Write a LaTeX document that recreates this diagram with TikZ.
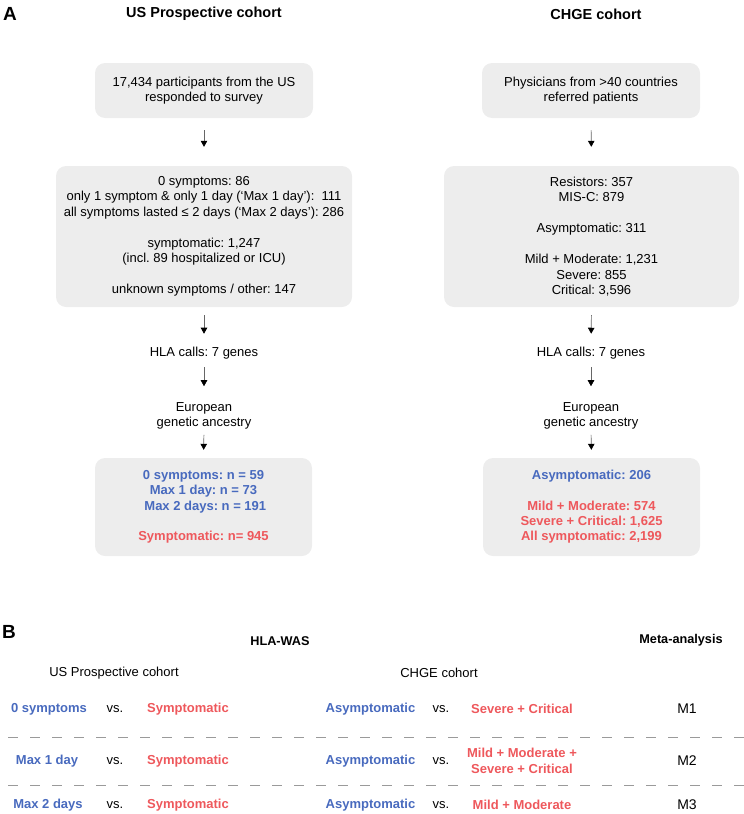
\documentclass[tikz,border=0pt]{standalone}
\usepackage{fontspec}
\setmainfont{Liberation Sans}
\usetikzlibrary{arrows.meta}
\definecolor{boxgray}{HTML}{EDEDED}
\definecolor{tblue}{RGB}{72,106,190}
\definecolor{tred}{RGB}{238,88,92}
\definecolor{dashgray}{HTML}{9A9A9A}
\frenchspacing
\tikzset{
  flowbox/.style={fill=boxgray, rounded corners=10pt, align=center, inner sep=0pt,
    font=\fontsize{13}{15.5}\selectfont},
  resbox/.style={fill=boxgray, rounded corners=10pt, align=center, inner sep=0pt,
    font=\bfseries\fontsize{13}{15.3}\selectfont},
  plain/.style={align=center, inner sep=0pt, font=\fontsize{13}{15.5}\selectfont},
  title/.style={inner sep=0pt, font=\bfseries\fontsize{14.5}{17}\selectfont},
  panel/.style={inner sep=0pt, font=\bfseries\fontsize{19}{21}\selectfont},
  subtitle/.style={inner sep=0pt, font=\bfseries\fontsize{12.7}{15}\selectfont},
  cohort/.style={inner sep=0pt, font=\fontsize{13}{15}\selectfont},
  grpb/.style={inner sep=0pt, align=center, text=tblue, font=\bfseries\fontsize{13}{15}\selectfont},
  grpr/.style={inner sep=0pt, align=center, text=tred, font=\bfseries\fontsize{13}{15}\selectfont},
  vsl/.style={inner sep=0pt, font=\fontsize{13}{15}\selectfont},
  meta/.style={inner sep=0pt, font=\fontsize{14}{16}\selectfont},
  arr/.style={line width=0.7pt, draw=black!60, -{Triangle[length=6pt,width=6.5pt,color=black]}},
  sep/.style={draw=dashgray, line width=1pt, dash pattern=on 10pt off 12pt},
}
\begin{document}
\begin{tikzpicture}[x=1pt,y=-1pt]
\useasboundingbox (0,0) rectangle (744,814);
% ---------------- Panel A ----------------
\node[panel] (pA) at (10,14) {A};
\node[title] (tUS) at (204,14) {US Prospective cohort};
\node[title] (tCH) at (596,14) {CHGE cohort};

% left column
\node[flowbox, minimum width=218pt, minimum height=55pt] (L1) at (204,90.5)
  {17,434 participants from the US\\responded to survey};
\node[flowbox, minimum width=296pt, minimum height=141pt] (L2) at (204,236.5)
  {0 symptoms: 86\\
   only 1 symptom \& only 1 day (‘Max 1 day’):\ \ 111\\
   all symptoms lasted ≤ 2 days (‘Max 2 days’): 286\\[15.5pt]
   symptomatic: 1,247\\
   (incl. 89 hospitalized or ICU)\\[15.5pt]
   unknown symptoms / other: 147};
\node[plain] (L3) at (204,353) {HLA calls: 7 genes};
\node[plain] (L4) at (204,416) {European\\genetic ancestry};
\node[resbox, minimum width=217pt, minimum height=98pt] (L5) at (203.5,507)
  {\textcolor{tblue}{0 symptoms: n = 59}\\
   \textcolor{tblue}{Max 1 day: n = 73}\\
   \textcolor{tblue}{\ Max 2 days: n = 191}\\[15.3pt]
   \textcolor{tred}{Symptomatic: n= 945}};

% right column
\node[flowbox, minimum width=218pt, minimum height=55pt] (R1) at (591,90.5)
  {Physicians from >40 countries\\referred patients};
\node[flowbox, minimum width=295pt, minimum height=141pt] (R2) at (591.5,236.5)
  {Resistors: 357\\
   MIS-C: 879\\[15.5pt]
   Asymptomatic: 311\\[15.5pt]
   Mild + Moderate: 1,231\\
   Severe: 855\\
   Critical: 3,596};
\node[plain] (R3) at (591,353) {HLA calls: 7 genes};
\node[plain] (R4) at (591,416) {European\\genetic ancestry};
\node[resbox, minimum width=217pt, minimum height=98pt] (R5) at (591.5,507)
  {\textcolor{tblue}{Asymptomatic: 206}\\[15.3pt]
   \textcolor{tred}{Mild + Moderate: 574}\\
   \textcolor{tred}{Severe + Critical: 1,625}\\
   \textcolor{tred}{All symptomatic: 2,199}};

% arrows
\foreach \c in {L,R}{
  \draw[arr, shorten <=12pt, shorten >=19pt] (\c1.south) -- (\c2.north);
  \draw[arr, shorten <=8pt, shorten >=13pt] (\c2.south) -- (\c3.north);
  \draw[arr, shorten <=8pt, shorten >=16pt] (\c3.south) -- (\c4.north);
  \draw[arr, shorten <=5pt, shorten >=8pt] (\c4.south) -- (\c5.north);
}

% ---------------- Panel B ----------------
\node[panel] (pB) at (9,632) {B};
\node[subtitle] (hw) at (280,641) {HLA-WAS};
\node[subtitle] (ma) at (681,640) {Meta-analysis};
\node[cohort] (cUS) at (114,673) {US Prospective cohort};
\node[cohort] (cCH) at (439,673) {CHGE cohort};

% row 1
\node[grpb] (a1) at (49,709) {0 symptoms};
\node[vsl] (v1) at (115,709) {vs.};
\node[grpr] (b1) at (188,709) {Symptomatic};
\node[grpb] (c1) at (370.5,709) {Asymptomatic};
\node[vsl] (w1) at (441,709) {vs.};
\node[grpr] (d1) at (522,709) {Severe + Critical};
\node[meta] (m1) at (687,709) {M1};

% row 2
\node[grpb] (a2) at (47,761) {Max 1 day};
\node[vsl] (v2) at (115,761) {vs.};
\node[grpr] (b2) at (188,761) {Symptomatic};
\node[grpb] (c2) at (370.5,761) {Asymptomatic};
\node[vsl] (w2) at (441,761) {vs.};
\node[grpr, font=\bfseries\fontsize{13}{15.5}\selectfont] (d2) at (522,761) {Mild + Moderate +\\Severe + Critical};
\node[meta] (m2) at (687,761) {M2};

% row 3
\node[grpb] (a3) at (48,805) {Max 2 days};
\node[vsl] (v3) at (115,805) {vs.};
\node[grpr] (b3) at (188,805) {Symptomatic};
\node[grpb] (c3) at (370.5,805) {Asymptomatic};
\node[vsl] (w3) at (441,805) {vs.};
\node[grpr] (d3) at (522,805) {Mild + Moderate};
\node[meta] (m3) at (687,805) {M3};

% separators
\coordinate (s1a) at (8,737);
\coordinate (s1b) at (744,737);
\coordinate (s2a) at (8,785);
\coordinate (s2b) at (744,785);
\draw[sep] (s1a) -- (s1b);
\draw[sep] (s2a) -- (s2b);
\end{tikzpicture}
\end{document}
